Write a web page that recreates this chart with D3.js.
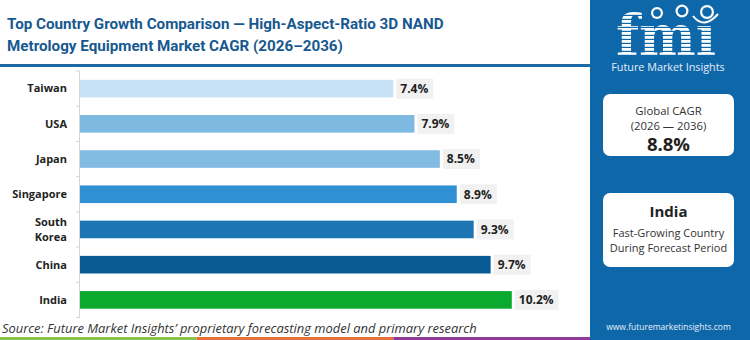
<!DOCTYPE html>
<html>
<head>
<meta charset="utf-8">
<script src="https://cdn.jsdelivr.net/npm/d3@7"></script>
<style>
  html, body { margin: 0; padding: 0; background: #fff; }
  svg { display: block; font-family: "Open Sans", sans-serif; }
</style>
</head>
<body>
<svg id="chart" width="750" height="340"></svg>
<script>
// chart data
var countries = ["Taiwan", "USA", "Japan", "Singapore", "South Korea", "China", "India"];
var cagr = [7.4, 7.9, 8.5, 8.9, 9.3, 9.7, 10.2];
var barColors = ["#c6e2f4", "#7db9e1", "#82bce3", "#3090d3", "#1e75b3", "#085a94", "#0aaa2e"];
var titleLines = [
    "Top Country Growth Comparison \u2014 High-Aspect-Ratio 3D NAND",
    "Metrology Equipment Market CAGR (2026\u20132036)"
];
var globalCagr = 8.8;
var cagrPeriod = "(2026 \u2014 2036)";
var leader = "India";
var leaderNote = ["Fast-Growing Country", "During Forecast Period"];
var sourceNote = "Source: Future Market Insights\u2019 proprietary forecasting model and primary research";
var stripColors = ["#8bc34a", "#e8703a", "#8e3a96"];

var svg = d3.select("#chart"),
    width = 750,
    height = 340,
    panelX = 590,
    blue = "#0e67a9";

/*==================== title ====================*/
svg.append("g").selectAll("text")
    .data(titleLines)
    .join("text")
    .attr("x", 7)
    .attr("y", function (d, i) { return 29 + i * 22; })
    .attr("fill", "#17598f")
    .attr("font-family", "Roboto, sans-serif")
    .attr("font-size", 15.2)
    .attr("font-weight", 700)
    .text(function (d) { return d; });

svg.append("rect")
    .attr("x", 0).attr("y", 64)
    .attr("width", panelX).attr("height", 3)
    .attr("fill", "#1b6aa5");

/*==================== bars ====================*/
var x = d3.scaleLinear().domain([0, 12]).range([80, 588]);
var y = d3.scaleBand().domain(countries).range([71, 317.5])
    .paddingInner(0.5).paddingOuter(0.25);

var rows = countries.map(function (c, i) { return {name: c, value: cagr[i], color: barColors[i]}; });

// axis line with ticks between the bands
var gap = (y.step() - y.bandwidth()) / 2;
var axis = svg.append("g").attr("stroke", "#d4d4d4").attr("stroke-width", 1);
axis.append("line")
    .attr("x1", x(0) - 0.5).attr("x2", x(0) - 0.5)
    .attr("y1", y.range()[0]).attr("y2", y.range()[1]);
var bounds = countries.map(function (c) { return y(c) - gap; }).concat([y.range()[1]]);
axis.selectAll("line.tick")
    .data(bounds)
    .join("line")
    .attr("class", "tick")
    .attr("x1", x(0) - 4).attr("x2", x(0))
    .attr("y1", function (d) { return d; })
    .attr("y2", function (d) { return d; });

svg.append("g").selectAll("rect")
    .data(rows)
    .join("rect")
    .attr("x", x(0))
    .attr("y", function (d) { return y(d.name); })
    .attr("width", function (d) { return x(d.value) - x(0); })
    .attr("height", y.bandwidth())
    .attr("fill", function (d) { return d.color; });

// country names, wrapped on spaces when two words
var names = svg.append("g")
    .attr("font-size", 11)
    .attr("font-weight", 700)
    .attr("fill", "#222")
    .attr("text-anchor", "end");
rows.forEach(function (d) {
    var words = d.name.split(" ");
    var cy = y(d.name) + y.bandwidth() / 2;
    var t = names.append("text").attr("x", 67);
    words.forEach(function (w, i) {
        t.append("tspan")
            .attr("x", 67)
            .attr("y", cy + (i - (words.length - 1) / 2) * 15.5)
            .attr("dy", "0.35em")
            .text(w);
    });
});

// value tags
var tags = svg.append("g").selectAll("g")
    .data(rows)
    .join("g")
    .attr("transform", function (d) {
        return "translate(" + (x(d.value) + 3) + "," + (y(d.name) + y.bandwidth() / 2) + ")";
    });
tags.append("text")
    .attr("x", 4)
    .attr("dy", "0.36em")
    .attr("font-size", 12)
    .attr("font-weight", 700)
    .attr("fill", "#222")
    .text(function (d) { return d.value.toFixed(1) + "%"; });
tags.insert("rect", "text")
    .attr("x", 0)
    .attr("y", -10)
    .attr("height", 20)
    .attr("width", function () { return this.parentNode.querySelector("text").getComputedTextLength() + 9; })
    .attr("fill", "#f1f1f1");

/*==================== footer ====================*/
svg.append("text")
    .attr("x", 2).attr("y", 333)
    .attr("font-size", 12.9)
    .attr("font-style", "italic")
    .attr("fill", "#333")
    .text(sourceNote);

var stripX = d3.scaleLinear().domain([0, stripColors.length]).range([0, panelX]);
svg.append("g").selectAll("rect")
    .data(stripColors)
    .join("rect")
    .attr("x", function (d, i) { return stripX(i); })
    .attr("y", 337)
    .attr("width", stripX(1) - stripX(0))
    .attr("height", 3)
    .attr("fill", function (d) { return d; });

/*==================== side panel ====================*/
var panel = svg.append("g");
panel.append("rect")
    .attr("x", panelX).attr("y", 0)
    .attr("width", width - panelX).attr("height", height)
    .attr("fill", blue);

// striped logo letters
var defs = svg.append("defs");
defs.append("pattern")
    .attr("id", "stripes")
    .attr("patternUnits", "userSpaceOnUse")
    .attr("width", 8).attr("height", 4)
    .append("rect")
    .attr("width", 8).attr("height", 2.8)
    .attr("fill", "#fff");

panel.append("text")
    .attr("x", 616).attr("y", 56)
    .attr("font-family", "DejaVu Serif")
    .attr("font-weight", 700)
    .attr("font-size", 58)
    .attr("textLength", 100)
    .attr("lengthAdjust", "spacingAndGlyphs")
    .attr("fill", "url(#stripes)")
    .text("fm\u0131");

// little globes over the letters
[[657, 13, 6], [682, 11, 6.5], [707, 12, 7]].forEach(function (g) {
    panel.append("circle")
        .attr("cx", g[0]).attr("cy", g[1]).attr("r", g[2])
        .attr("fill", "#fff");
    panel.append("circle")
        .attr("cx", g[0]).attr("cy", g[1]).attr("r", g[2] - 2.2)
        .attr("fill", blue);
});
panel.append("path")
    .attr("d", "M693,16 Q704,30 718,14")
    .attr("fill", "none")
    .attr("stroke", "#fff")
    .attr("stroke-width", 2);

panel.append("text")
    .attr("x", 668).attr("y", 71)
    .attr("text-anchor", "middle")
    .attr("font-size", 10.8)
    .attr("fill", "#e4eef8")
    .text("Future Market Insights");

// cards
function card(y0, h) {
    panel.append("rect")
        .attr("x", 603).attr("y", y0)
        .attr("width", 131).attr("height", h)
        .attr("rx", 7)
        .attr("fill", "#fff");
}
card(94, 62);
card(193, 74);

var cx = 668.5;
panel.append("text").attr("x", cx).attr("y", 115)
    .attr("text-anchor", "middle").attr("font-size", 11.3).attr("fill", "#333")
    .text("Global CAGR");
panel.append("text").attr("x", cx).attr("y", 130)
    .attr("text-anchor", "middle").attr("font-size", 11.3).attr("fill", "#333")
    .text(cagrPeriod);
panel.append("text").attr("x", cx).attr("y", 151)
    .attr("text-anchor", "middle").attr("font-size", 18.5).attr("font-weight", 700).attr("fill", "#222")
    .text(globalCagr.toFixed(1) + "%");

panel.append("text").attr("x", cx).attr("y", 217)
    .attr("text-anchor", "middle").attr("font-size", 15).attr("font-weight", 700).attr("fill", "#222")
    .text(leader);
leaderNote.forEach(function (t, i) {
    panel.append("text").attr("x", cx).attr("y", 237 + i * 15)
        .attr("text-anchor", "middle").attr("font-size", 11).attr("fill", "#333")
        .text(t);
});

panel.append("text")
    .attr("x", cx).attr("y", 330)
    .attr("text-anchor", "middle")
    .attr("font-size", 8.5)
    .attr("fill", "#e8f0f8")
    .text("www.futuremarketinsights.com");
</script>
</body>
</html>
